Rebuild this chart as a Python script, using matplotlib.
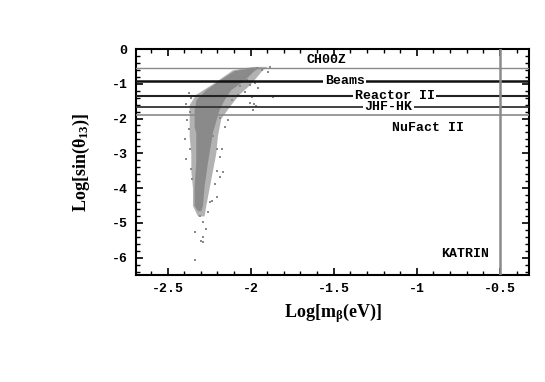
import matplotlib
matplotlib.use("Agg")
import matplotlib.pyplot as plt
from matplotlib.ticker import MultipleLocator, FuncFormatter

plt.rcParams["mathtext.fontset"] = "custom"
plt.rcParams["mathtext.rm"] = "Liberation Serif:bold"
plt.rcParams["mathtext.it"] = "Liberation Serif:bold"
plt.rcParams["mathtext.bf"] = "Liberation Serif:bold"

# ---- data ----
# dense core of the scatter cloud: (y level, left x, right x)
core_y = [-0.52, -0.62, -0.90, -1.17, -1.46, -1.74, -2.23, -2.40, -3.26, -3.94, -4.50, -4.65]
core_left = [-1.97, -2.10, -2.19, -2.27, -2.33, -2.34, -2.34, -2.33, -2.33, -2.34, -2.34, -2.32]
core_right = [-1.95, -1.98, -2.04, -2.12, -2.16, -2.19, -2.22, -2.23, -2.26, -2.28, -2.29, -2.30]

# looser halo around the core
halo_y = [-0.50, -0.60, -1.00, -1.30, -1.60, -2.00, -2.50, -3.00, -3.50, -4.00, -4.50, -4.80]
halo_left = [-1.99, -2.11, -2.23, -2.33, -2.37, -2.37, -2.37, -2.36, -2.36, -2.35, -2.35, -2.32]
halo_right = [-1.90, -1.93, -2.00, -2.07, -2.12, -2.18, -2.20, -2.21, -2.23, -2.25, -2.27, -2.28]

# sparse points around the core
pts_x = [-1.994, -1.964, -1.934, -1.898, -1.886, -2.024, -2.006, -1.976, -1.958, -2.036,
         -1.994, -2.006, -1.982, -1.970, -1.988, -1.867, -2.078, -2.114, -2.066, -2.139,
         -2.157, -2.187,
         -2.373, -2.361, -2.386, -2.367, -2.380, -2.373, -2.392, -2.367, -2.386, -2.361, -2.355,
         -2.229, -2.205, -2.175, -2.187, -2.205, -2.169, -2.187, -2.217, -2.205, -2.235,
         -2.247, -2.259, -2.307, -2.289, -2.271, -2.337, -2.289, -2.301, -2.289, -2.337]
pts_y = [-0.60, -0.54, -0.60, -0.66, -0.51, -0.89, -1.03, -0.97, -1.11, -1.23,
         -1.37, -1.54, -1.57, -1.63, -1.74, -1.37, -1.31, -1.46, -1.06, -2.03,
         -2.23, -1.97,
         -1.26, -1.40, -1.57, -1.80, -2.03, -2.31, -2.60, -2.89, -3.17, -3.46, -3.74,
         -2.51, -2.89, -2.89, -3.11, -3.51, -3.54, -3.69, -3.89, -4.26, -4.37,
         -4.40, -4.69, -4.80, -4.97, -5.17, -5.26, -5.40, -5.51, -5.54, -6.06]

# experimental sensitivity limits
limit_names = ["CH00Z", "Beams", "Reactor II", "JHF-HK", "NuFact II"]
limit_values = [-0.54, -0.91, -1.34, -1.66, -1.91]
katrin_value = -0.5

x_ticks = [-2.5, -2.0, -1.5, -1.0, -0.5]
y_ticks = [0, -1, -2, -3, -4, -5, -6]

# ---- figure ----
fig = plt.figure(figsize=(5.45, 3.82), dpi=100)
ax = fig.add_axes([0.2495, 0.2801, 0.7211, 0.5916])
ax.set_xlim(-2.69, -0.325)
ax.set_ylim(-6.5, 0)

gray = "#8a8a8a"
ax.fill_betweenx(halo_y, halo_left, halo_right, color="#b2b2b2", lw=0, zorder=1)
ax.fill_betweenx(core_y, core_left, core_right, color=gray, lw=0, zorder=2)
ax.scatter(pts_x, pts_y, s=4, marker="s", color=gray, lw=0, zorder=2)

line_colors = ["#8a8a8a", "#111111", "#222222", "#333333", "#8a8a8a"]
line_widths = [1.0, 1.8, 1.5, 1.3, 1.2]
for v, c, w in zip(limit_values, line_colors, line_widths):
    ax.axhline(v, color=c, lw=w, zorder=3)
ax.axvline(katrin_value, color="#8a8a8a", lw=1.8, zorder=3)

mono = {"family": "Liberation Mono", "weight": "bold", "size": 9.5}
bb = dict(facecolor="white", edgecolor="none", pad=1.0)
ax.text(-1.542, -0.31, limit_names[0], ha="center", va="center", fontdict=mono, zorder=4)
ax.text(-1.434, limit_values[1], limit_names[1], ha="center", va="center", fontdict=mono, bbox=bb, zorder=4)
ax.text(-1.133, limit_values[2], limit_names[2], ha="center", va="center", fontdict=mono, bbox=bb, zorder=4)
ax.text(-1.169, limit_values[3], limit_names[3], ha="center", va="center", fontdict=mono, bbox=bb, zorder=4)
ax.text(-0.934, -2.26, limit_names[4], ha="center", va="center", fontdict=mono, zorder=4)
ax.text(-0.711, -5.91, "KATRIN", ha="center", va="center", fontdict=mono, zorder=4)

ax.set_xticks(x_ticks)
ax.set_yticks(y_ticks)
ax.xaxis.set_minor_locator(MultipleLocator(0.1))
ax.yaxis.set_minor_locator(MultipleLocator(0.2))
ax.xaxis.set_major_formatter(FuncFormatter(lambda v, p: ("%g" % v)))
ax.yaxis.set_major_formatter(FuncFormatter(lambda v, p: ("%d" % v)))
ax.tick_params(which="both", direction="in", top=True, right=True, color="black")
ax.tick_params(which="major", length=5, width=1.2, pad=6)
ax.tick_params(which="minor", length=3, width=1.0)
for lab in ax.get_xticklabels() + ax.get_yticklabels():
    lab.set_family("Liberation Mono")
    lab.set_weight("bold")
    lab.set_size(9.5)
for s in ax.spines.values():
    s.set_linewidth(1.5)

serif = {"family": "Liberation Serif", "weight": "bold", "size": 13}
ax.set_xlabel(r"Log[m$_{\beta}$(eV)]", fontdict=serif, labelpad=4)
ax.set_ylabel(r"Log[sin($\theta_{13}$)]", fontdict=serif, labelpad=14)

fig.savefig("out.png", dpi=100, facecolor="white")
